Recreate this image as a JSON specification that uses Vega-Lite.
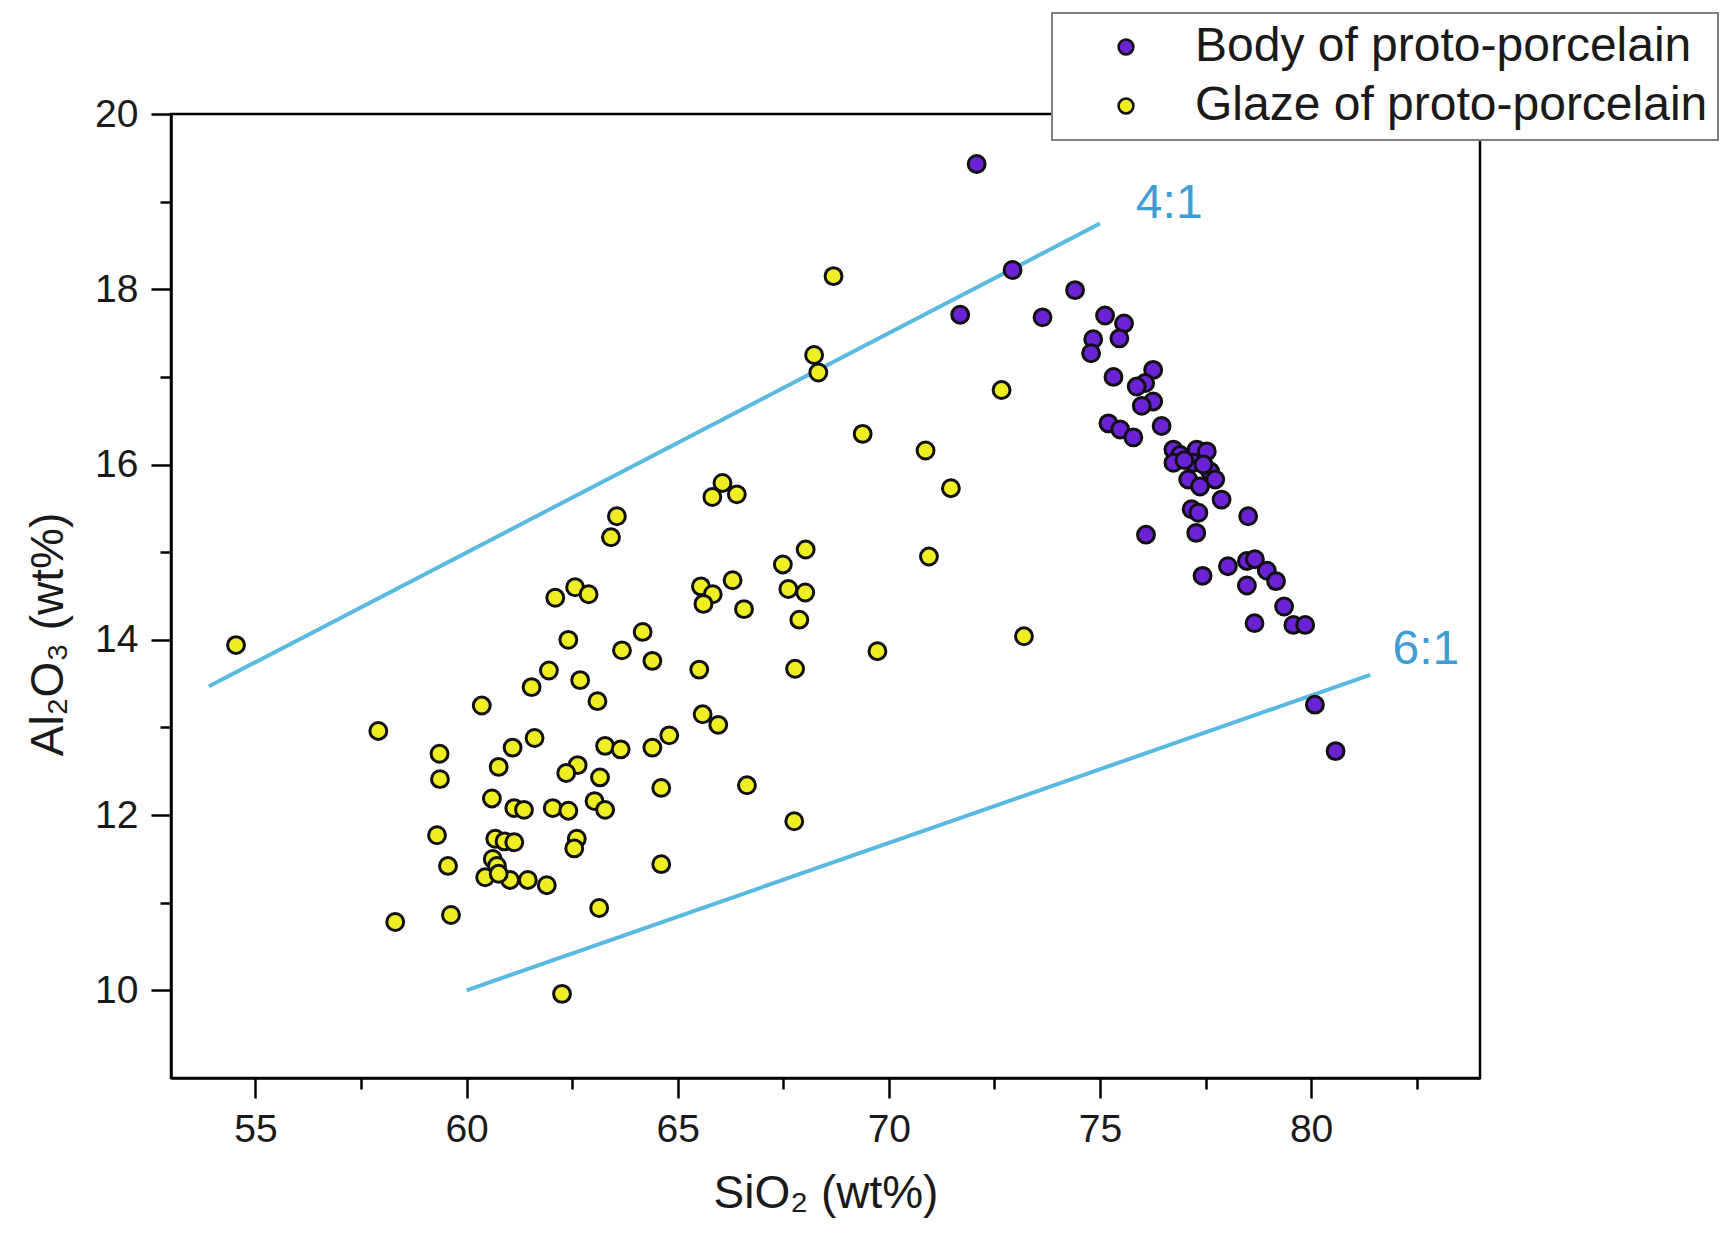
{
  "$schema": "https://vega.github.io/schema/vega-lite/v6.json",
  "width": 1309,
  "height": 964,
  "autosize": {"type": "none"},
  "padding": {"left": 171, "top": 114, "right": 247, "bottom": 165},
  "background": "white",
  "config": {
    "view": {"stroke": "#000000", "strokeWidth": 2.5},
    "font": "Liberation Sans"
  },
  "datasets": {
    "ratios": [
      {"ratio": "4:1", "SiO2": 53.9, "Al2O3": 13.47},
      {"ratio": "4:1", "SiO2": 75.0, "Al2O3": 18.75},
      {"ratio": "6:1", "SiO2": 60.0, "Al2O3": 10.0},
      {"ratio": "6:1", "SiO2": 81.4, "Al2O3": 13.6}
    ],
    "labels": [
      {"label": "4:1", "SiO2": 76.64, "Al2O3": 18.97},
      {"label": "6:1", "SiO2": 82.72, "Al2O3": 13.88}
    ],
    "body": [
      {"SiO2": 72.08, "Al2O3": 19.43}, {"SiO2": 72.93, "Al2O3": 18.22}, {"SiO2": 71.69, "Al2O3": 17.71},
      {"SiO2": 74.41, "Al2O3": 17.99}, {"SiO2": 73.64, "Al2O3": 17.68}, {"SiO2": 75.12, "Al2O3": 17.70},
      {"SiO2": 75.57, "Al2O3": 17.61}, {"SiO2": 75.46, "Al2O3": 17.44}, {"SiO2": 74.84, "Al2O3": 17.43},
      {"SiO2": 74.79, "Al2O3": 17.27}, {"SiO2": 75.32, "Al2O3": 17.00}, {"SiO2": 76.26, "Al2O3": 17.08},
      {"SiO2": 76.07, "Al2O3": 16.93}, {"SiO2": 75.87, "Al2O3": 16.89}, {"SiO2": 76.26, "Al2O3": 16.72},
      {"SiO2": 75.99, "Al2O3": 16.67}, {"SiO2": 75.20, "Al2O3": 16.47}, {"SiO2": 75.48, "Al2O3": 16.40},
      {"SiO2": 75.79, "Al2O3": 16.31}, {"SiO2": 76.46, "Al2O3": 16.44}, {"SiO2": 76.74, "Al2O3": 16.17},
      {"SiO2": 77.29, "Al2O3": 16.17}, {"SiO2": 77.53, "Al2O3": 16.15}, {"SiO2": 76.90, "Al2O3": 16.11},
      {"SiO2": 76.74, "Al2O3": 16.02}, {"SiO2": 77.21, "Al2O3": 16.02}, {"SiO2": 77.61, "Al2O3": 15.92},
      {"SiO2": 77.09, "Al2O3": 15.83}, {"SiO2": 77.37, "Al2O3": 15.75}, {"SiO2": 77.73, "Al2O3": 15.83},
      {"SiO2": 77.88, "Al2O3": 15.60}, {"SiO2": 77.17, "Al2O3": 15.49}, {"SiO2": 77.33, "Al2O3": 15.45},
      {"SiO2": 78.51, "Al2O3": 15.41}, {"SiO2": 76.09, "Al2O3": 15.20}, {"SiO2": 77.28, "Al2O3": 15.22},
      {"SiO2": 78.03, "Al2O3": 14.84}, {"SiO2": 78.48, "Al2O3": 14.90}, {"SiO2": 78.67, "Al2O3": 14.92},
      {"SiO2": 78.95, "Al2O3": 14.79}, {"SiO2": 79.17, "Al2O3": 14.67}, {"SiO2": 77.43, "Al2O3": 14.73},
      {"SiO2": 78.48, "Al2O3": 14.62}, {"SiO2": 79.36, "Al2O3": 14.38}, {"SiO2": 78.66, "Al2O3": 14.19},
      {"SiO2": 79.58, "Al2O3": 14.17}, {"SiO2": 79.86, "Al2O3": 14.17}, {"SiO2": 80.09, "Al2O3": 13.26},
      {"SiO2": 80.58, "Al2O3": 12.73}, {"SiO2": 77.00, "Al2O3": 16.05}, {"SiO2": 77.45, "Al2O3": 16.00}
    ],
    "glaze": [
      {"SiO2": 54.54, "Al2O3": 13.94},
      {"SiO2": 68.69, "Al2O3": 18.15}, {"SiO2": 68.23, "Al2O3": 17.25}, {"SiO2": 68.33, "Al2O3": 17.05},
      {"SiO2": 72.67, "Al2O3": 16.85}, {"SiO2": 69.38, "Al2O3": 16.35}, {"SiO2": 70.87, "Al2O3": 16.16},
      {"SiO2": 71.47, "Al2O3": 15.73}, {"SiO2": 66.06, "Al2O3": 15.79}, {"SiO2": 65.82, "Al2O3": 15.63},
      {"SiO2": 66.40, "Al2O3": 15.66}, {"SiO2": 63.56, "Al2O3": 15.41}, {"SiO2": 63.42, "Al2O3": 15.17},
      {"SiO2": 70.95, "Al2O3": 14.95}, {"SiO2": 68.03, "Al2O3": 15.03}, {"SiO2": 67.49, "Al2O3": 14.86},
      {"SiO2": 66.30, "Al2O3": 14.68}, {"SiO2": 65.55, "Al2O3": 14.61}, {"SiO2": 65.83, "Al2O3": 14.52},
      {"SiO2": 65.61, "Al2O3": 14.41}, {"SiO2": 66.57, "Al2O3": 14.35}, {"SiO2": 67.62, "Al2O3": 14.58},
      {"SiO2": 68.02, "Al2O3": 14.54}, {"SiO2": 67.88, "Al2O3": 14.23}, {"SiO2": 73.20, "Al2O3": 14.04},
      {"SiO2": 69.73, "Al2O3": 13.87}, {"SiO2": 62.10, "Al2O3": 14.48}, {"SiO2": 62.57, "Al2O3": 14.60},
      {"SiO2": 62.89, "Al2O3": 14.52}, {"SiO2": 64.17, "Al2O3": 14.09}, {"SiO2": 62.41, "Al2O3": 14.00},
      {"SiO2": 63.68, "Al2O3": 13.88}, {"SiO2": 64.40, "Al2O3": 13.76}, {"SiO2": 65.51, "Al2O3": 13.66},
      {"SiO2": 67.78, "Al2O3": 13.67}, {"SiO2": 61.95, "Al2O3": 13.65}, {"SiO2": 61.54, "Al2O3": 13.46},
      {"SiO2": 62.69, "Al2O3": 13.54}, {"SiO2": 63.10, "Al2O3": 13.30}, {"SiO2": 60.36, "Al2O3": 13.25},
      {"SiO2": 57.91, "Al2O3": 12.96}, {"SiO2": 65.59, "Al2O3": 13.15}, {"SiO2": 65.96, "Al2O3": 13.03},
      {"SiO2": 59.36, "Al2O3": 12.70}, {"SiO2": 59.37, "Al2O3": 12.41}, {"SiO2": 61.09, "Al2O3": 12.77},
      {"SiO2": 61.61, "Al2O3": 12.88}, {"SiO2": 60.76, "Al2O3": 12.55}, {"SiO2": 63.28, "Al2O3": 12.79},
      {"SiO2": 63.65, "Al2O3": 12.75}, {"SiO2": 64.40, "Al2O3": 12.77}, {"SiO2": 64.80, "Al2O3": 12.91},
      {"SiO2": 62.63, "Al2O3": 12.57}, {"SiO2": 62.36, "Al2O3": 12.48}, {"SiO2": 63.16, "Al2O3": 12.43},
      {"SiO2": 66.64, "Al2O3": 12.34}, {"SiO2": 64.61, "Al2O3": 12.31}, {"SiO2": 60.60, "Al2O3": 12.19},
      {"SiO2": 61.13, "Al2O3": 12.08}, {"SiO2": 61.36, "Al2O3": 12.06}, {"SiO2": 62.04, "Al2O3": 12.08},
      {"SiO2": 62.41, "Al2O3": 12.05}, {"SiO2": 63.03, "Al2O3": 12.16}, {"SiO2": 63.28, "Al2O3": 12.06},
      {"SiO2": 67.76, "Al2O3": 11.93}, {"SiO2": 59.30, "Al2O3": 11.77}, {"SiO2": 60.68, "Al2O3": 11.73},
      {"SiO2": 60.90, "Al2O3": 11.70}, {"SiO2": 61.13, "Al2O3": 11.69}, {"SiO2": 62.61, "Al2O3": 11.73},
      {"SiO2": 62.55, "Al2O3": 11.62}, {"SiO2": 60.62, "Al2O3": 11.50}, {"SiO2": 60.72, "Al2O3": 11.42},
      {"SiO2": 59.56, "Al2O3": 11.42}, {"SiO2": 64.61, "Al2O3": 11.44}, {"SiO2": 60.44, "Al2O3": 11.29},
      {"SiO2": 61.03, "Al2O3": 11.26}, {"SiO2": 61.45, "Al2O3": 11.26}, {"SiO2": 61.90, "Al2O3": 11.20},
      {"SiO2": 60.76, "Al2O3": 11.33}, {"SiO2": 63.14, "Al2O3": 10.94}, {"SiO2": 59.63, "Al2O3": 10.86},
      {"SiO2": 58.31, "Al2O3": 10.78}, {"SiO2": 62.26, "Al2O3": 9.96}
    ]
  },
  "encoding": {
    "x": {
      "field": "SiO2",
      "type": "quantitative",
      "scale": {"domain": [53, 84], "nice": false, "zero": false},
      "axis": {
        "title": "SiO₂ (wt%)",
        "values": [55, 57.5, 60, 62.5, 65, 67.5, 70, 72.5, 75, 77.5, 80, 82.5],
        "labelExpr": "datum.value % 5 === 0 ? '' + datum.value : ''",
        "tickSize": {"condition": {"test": "datum.value % 5 === 0", "value": 20}, "value": 11},
        "grid": false,
        "labelOverlap": false,
        "labelFlush": false,
        "domainColor": "#000000",
        "domainWidth": 2.5,
        "tickColor": "#000000",
        "tickWidth": 2.5,
        "labelFont": "Liberation Sans",
        "labelFontSize": 39,
        "labelColor": "#1a1a1a",
        "labelPadding": 12,
        "titleFont": "Liberation Sans",
        "titleFontSize": 46,
        "titleFontWeight": "normal",
        "titleColor": "#1a1a1a",
        "titlePadding": 22
      }
    },
    "y": {
      "field": "Al2O3",
      "type": "quantitative",
      "scale": {"domain": [9, 20], "nice": false, "zero": false},
      "axis": {
        "title": "Al₂O₃ (wt%)",
        "values": [10, 11, 12, 13, 14, 15, 16, 17, 18, 19, 20],
        "labelExpr": "datum.value % 2 === 0 ? '' + datum.value : ''",
        "tickSize": {"condition": {"test": "datum.value % 2 === 0", "value": 20}, "value": 11},
        "grid": false,
        "labelOverlap": false,
        "labelFlush": false,
        "domainColor": "#000000",
        "domainWidth": 2.5,
        "tickColor": "#000000",
        "tickWidth": 2.5,
        "labelFont": "Liberation Sans",
        "labelFontSize": 39,
        "labelColor": "#1a1a1a",
        "labelPadding": 13,
        "titleFont": "Liberation Sans",
        "titleFontSize": 46,
        "titleFontWeight": "normal",
        "titleColor": "#1a1a1a",
        "titlePadding": 22,
        "titleY": 520
      }
    }
  },
  "layer": [
    {
      "data": {"name": "ratios"},
      "mark": {"type": "line", "color": "#5ab9e0", "strokeWidth": 4},
      "encoding": {"detail": {"field": "ratio"}}
    },
    {
      "data": {"name": "body"},
      "mark": {"type": "circle", "size": 285, "opacity": 1, "stroke": "#111111", "strokeWidth": 3},
      "encoding": {
        "color": {
          "datum": "Body of proto-porcelain",
          "type": "nominal",
          "scale": {"domain": ["Body of proto-porcelain", "Glaze of proto-porcelain"], "range": ["#6a22d4", "#eeee22"]},
          "legend": {
            "orient": "none",
            "legendX": 881,
            "legendY": -101,
            "title": null,
            "labelFont": "Liberation Sans",
            "labelFontSize": 48,
            "labelColor": "#1a1a1a",
            "labelLimit": 1000,
            "symbolType": "circle",
            "symbolSize": 220,
            "symbolStrokeColor": "#111111",
            "symbolStrokeWidth": 2.5,
            "symbolOpacity": 1,
            "padding": 10,
            "rowPadding": 11,
            "symbolOffset": 40,
            "labelOffset": 45,
            "fillColor": "#ffffff",
            "strokeColor": "#808080",
            "encode": {"legend": {"update": {"strokeWidth": {"value": 2}}}}
          }
        }
      }
    },
    {
      "data": {"name": "glaze"},
      "mark": {"type": "circle", "size": 285, "opacity": 1, "stroke": "#111111", "strokeWidth": 3},
      "encoding": {
        "color": {"datum": "Glaze of proto-porcelain", "type": "nominal"}
      }
    },
    {
      "data": {"name": "labels"},
      "mark": {"type": "text", "font": "Liberation Sans", "fontSize": 48, "color": "#3d9ed6", "align": "center", "baseline": "middle"},
      "encoding": {"text": {"field": "label"}}
    }
  ]
}
